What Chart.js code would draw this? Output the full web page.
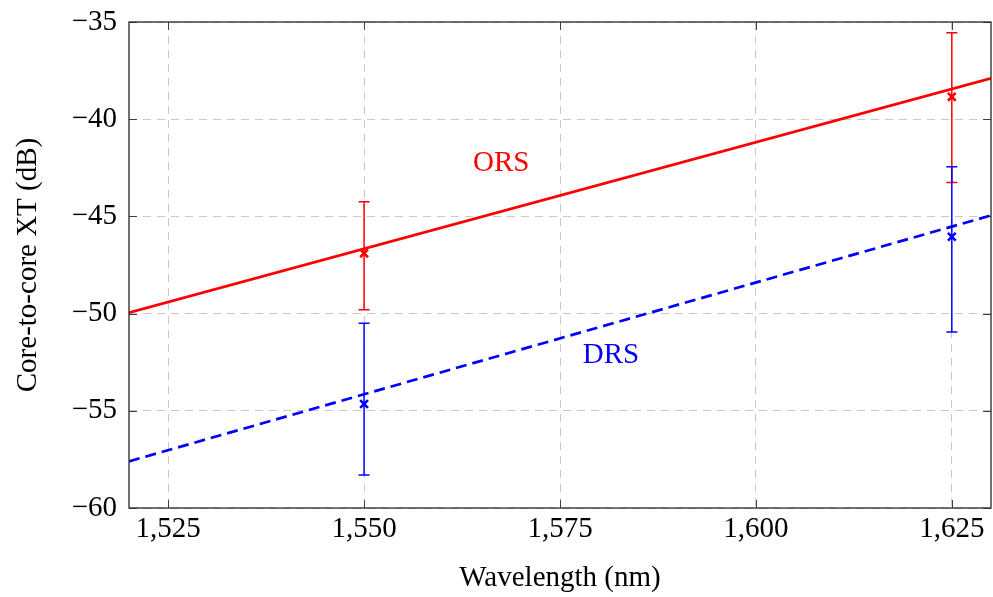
<!DOCTYPE html>
<html>
<head>
<meta charset="utf-8">
<script src="https://cdn.jsdelivr.net/npm/chart.js@4/dist/chart.umd.min.js"></script>
<style>
  html, body { margin: 0; padding: 0; background: #fff; }
  #wrap { width: 993px; height: 597px; position: relative; }
</style>
</head>
<body>
<div id="wrap"><canvas id="c" width="993" height="597"></canvas></div>
<script>
// ---- data ----
const xTicks = [1525, 1550, 1575, 1600, 1625];
const yTicks = [-60, -55, -50, -45, -40, -35];

const measWavelengths = [1550, 1625];
const orsMean = [-46.9, -38.85];
const orsUpper = [-44.25, -35.55];
const orsLower = [-49.8, -43.25];
const drsMean = [-54.65, -46.05];
const drsUpper = [-50.5, -42.45];
const drsLower = [-58.3, -50.95];

const fitWavelengths = [1520, 1630];
const orsFit = [-49.95, -37.9];
const drsFit = [-57.6, -44.95];

const seriesLabels = ['ORS', 'DRS'];
const labelPos = [[1567.5, -42.25], [1581.5, -52.15]];

const RED = '#ff0000';
const BLUE = '#0000ff';
const FONT = '"Liberation Serif", "DejaVu Serif", serif';

const toPts = (xs, ys) => xs.map((x, i) => ({ x: x, y: ys[i] }));
const fmtMinus = v => (v < 0 ? '\u2212' : '') + Math.abs(v);
const fmtThousands = v => { const s = String(v); return s.length > 3 ? s.slice(0, s.length - 3) + ',' + s.slice(-3) : s; };

const frame = {
  id: 'frame',
  beforeDatasetsDraw(chart) {
    const { ctx, chartArea: a, scales: { x, y } } = chart;
    ctx.save();
    ctx.strokeStyle = '#404040';
    ctx.lineWidth = 1;
    const tl = 8;
    xTicks.forEach(v => {
      const px = Math.round(x.getPixelForValue(v)) + 0.5;
      ctx.beginPath();
      ctx.moveTo(px, a.bottom); ctx.lineTo(px, a.bottom - tl);
      ctx.moveTo(px, a.top); ctx.lineTo(px, a.top + tl);
      ctx.stroke();
    });
    yTicks.forEach(v => {
      const py = Math.round(y.getPixelForValue(v)) + 0.5;
      ctx.beginPath();
      ctx.moveTo(a.left, py); ctx.lineTo(a.left + tl, py);
      ctx.moveTo(a.right, py); ctx.lineTo(a.right - tl, py);
      ctx.stroke();
    });
    ctx.restore();
  },
  afterDatasetsDraw(chart) {
    const { ctx, chartArea: a, scales: { x, y } } = chart;
    ctx.save();
    // error bars
    const bars = [
      [orsUpper, orsLower, RED],
      [drsUpper, drsLower, BLUE]
    ];
    bars.forEach(([up, lo, col]) => {
      ctx.strokeStyle = col;
      ctx.lineWidth = 1.5;
      measWavelengths.forEach((w, i) => {
        const px = x.getPixelForValue(w);
        const p1 = y.getPixelForValue(up[i]);
        const p2 = y.getPixelForValue(lo[i]);
        ctx.beginPath();
        ctx.moveTo(px, p1); ctx.lineTo(px, p2);
        ctx.moveTo(px - 5.5, p1); ctx.lineTo(px + 5.5, p1);
        ctx.moveTo(px - 5.5, p2); ctx.lineTo(px + 5.5, p2);
        ctx.stroke();
      });
    });
    // labels
    ctx.font = '29px ' + FONT;
    ctx.textAlign = 'center';
    ctx.textBaseline = 'middle';
    [RED, BLUE].forEach((col, i) => {
      ctx.fillStyle = col;
      ctx.fillText(seriesLabels[i], x.getPixelForValue(labelPos[i][0]), y.getPixelForValue(labelPos[i][1]));
    });
    // box
    ctx.strokeStyle = '#262626';
    ctx.lineWidth = 1.3;
    ctx.strokeRect(a.left, a.top, a.right - a.left, a.bottom - a.top);
    ctx.restore();
  }
};

new Chart(document.getElementById('c'), {
  type: 'scatter',
  data: {
    datasets: [
      { type: 'line', data: toPts(fitWavelengths, orsFit), borderColor: RED, borderWidth: 2.7, pointRadius: 0, fill: false },
      { type: 'line', data: toPts(fitWavelengths, drsFit), borderColor: BLUE, borderWidth: 2.7, borderDash: [11, 6], pointRadius: 0, fill: false },
      { data: toPts(measWavelengths, orsMean), pointStyle: 'crossRot', pointRadius: 5.5, borderColor: RED, backgroundColor: RED, pointBorderWidth: 2.6, showLine: false },
      { data: toPts(measWavelengths, drsMean), pointStyle: 'crossRot', pointRadius: 5.5, borderColor: BLUE, backgroundColor: BLUE, pointBorderWidth: 2.6, showLine: false }
    ]
  },
  options: {
    responsive: false,
    animation: false,
    events: [],
    layout: { autoPadding: false, padding: { top: 22, right: 2, left: 0, bottom: 0 } },
    plugins: { legend: { display: false }, tooltip: { enabled: false } },
    scales: {
      x: {
        type: 'linear', min: 1520, max: 1630,
        afterBuildTicks: s => { s.ticks = xTicks.map(v => ({ value: v })); },
        afterFit: s => { s.height = 89; s.paddingLeft = 0; s.paddingRight = 0; },
        grid: { color: '#c8c8c8', lineWidth: 1, drawTicks: false },
        border: { display: false, dash: [8, 6] },
        ticks: { callback: v => fmtThousands(v), font: { family: FONT, size: 29 }, color: '#000', padding: 4, maxRotation: 0 },
        title: { display: true, text: 'Wavelength (nm)', font: { family: FONT, size: 29 }, color: '#000', padding: { top: 0, bottom: 1 } }
      },
      y: {
        type: 'linear', min: -60, max: -35,
        afterBuildTicks: s => { s.ticks = yTicks.map(v => ({ value: v })); },
        afterFit: s => { s.width = 129; s.paddingTop = 0; s.paddingBottom = 0; },
        grid: { color: '#c8c8c8', lineWidth: 1, drawTicks: false },
        border: { display: false, dash: [8, 6] },
        ticks: { callback: v => fmtMinus(v), font: { family: FONT, size: 29 }, color: '#000', padding: 12 },
        title: { display: true, text: 'Core-to-core XT (dB)', font: { family: FONT, size: 29 }, color: '#000', padding: { top: 11, bottom: 0 } }
      }
    }
  },
  plugins: [frame]
});
</script>
</body>
</html>
